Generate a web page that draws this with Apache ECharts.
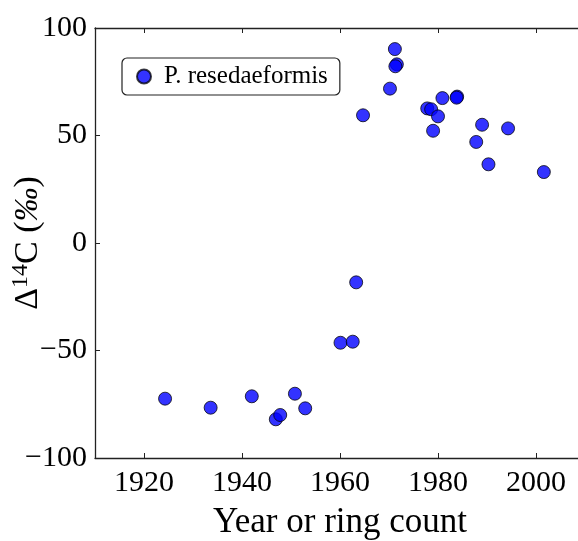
<!DOCTYPE html>
<html>
<head>
<meta charset="utf-8">
<script src="https://cdn.jsdelivr.net/npm/echarts@6/dist/echarts.min.js"></script>
<style>html,body{margin:0;padding:0;background:#fff}#c{width:578px;height:541px}</style>
</head>
<body>
<div id="c"></div>
<script>
const seriesName = 'P. resedaeformis';
const years = [1924.3, 1933.6, 1942.0, 1946.9, 1947.8, 1950.8, 1952.9, 1960.1, 1962.6, 1963.3,
  1964.7, 1970.2, 1971.2, 1971.6, 1971.3, 1977.8, 1978.6, 1980.0, 1979.0, 1980.9,
  1983.9, 1983.8, 1989.0, 1987.8, 1994.3, 1990.3, 2001.6];
const delta14C = [-72.4, -76.6, -71.3, -82.0, -80.0, -70.1, -76.9, -46.4, -45.9, -18.3,
  59.4, 71.8, 90.2, 83.1, 82.2, 62.6, 62.2, 58.9, 52.2, 67.4,
  68.1, 67.6, 55.0, 47.0, 53.3, 36.6, 33.0];
const xTicks = [1920, 1940, 1960, 1980, 2000];
const yTicks = [-100, -50, 0, 50, 100];

const font = 'Liberation Serif, Times New Roman, serif';
const chart = echarts.init(document.getElementById('c'), null, {renderer: 'canvas'});
const axisLine = {show: true, onZero: false, lineStyle: {color: '#222', width: 1.3}};
const fmt = v => String(v).replace('-', '\u2212');
chart.setOption({
  animation: false,
  backgroundColor: '#fff',
  grid: {left: 95, top: 28, bottom: 83, right: -7, containLabel: false, outerBoundsMode: 'none'},
  legend: {
    show: true, left: 122, top: 58, orient: 'horizontal',
    backgroundColor: '#fff', borderColor: '#222', borderWidth: 1.2, borderRadius: 5,
    padding: [6, 12, 6, 14], itemWidth: 14, itemHeight: 14, icon: 'circle',
    textStyle: {fontFamily: font, fontSize: 25, color: '#000', padding: [0, 0, 0, 8]},
    data: [seriesName]
  },
  xAxis: [{
    type: 'value', position: 'bottom', min: 1910, max: 2010,
    axisLine: axisLine, splitLine: {show: false},
    axisTick: {show: true, inside: true, length: 5, customValues: xTicks, lineStyle: {color: '#222'}},
    axisLabel: {show: true, customValues: xTicks, margin: 10, fontFamily: font, fontSize: 30, color: '#000', formatter: v => String(v)},
    name: 'Year or ring count', nameLocation: 'middle', nameGap: 47, nameMoveOverlap: false,
    nameTextStyle: {fontFamily: font, fontSize: 35, color: '#000'}
  }, {
    type: 'value', position: 'top', min: 1910, max: 2010,
    axisLine: axisLine, splitLine: {show: false},
    axisTick: {show: true, inside: true, length: 5, customValues: xTicks, lineStyle: {color: '#222'}},
    axisLabel: {show: false}
  }],
  yAxis: {
    type: 'value', min: -100, max: 100, interval: 50,
    axisLine: axisLine, splitLine: {show: false},
    axisTick: {show: true, inside: true, length: 5, lineStyle: {color: '#222'}},
    axisLabel: {margin: 8, fontFamily: font, fontSize: 30, color: '#000', formatter: fmt},
    name: '{d|\u0394}{sup|14}{d|C (}{it|\u2030}{d|)}',
    nameLocation: 'middle', nameGap: 48, nameRotate: 90, nameMoveOverlap: false,
    nameTextStyle: {
      fontFamily: font, fontSize: 34, color: '#000',
      rich: {
        d: {fontFamily: font, fontSize: 34, color: '#000', lineHeight: 38},
        sup: {fontFamily: font, fontSize: 24, color: '#000', verticalAlign: 'top', lineHeight: 38, padding: [0, 0, 14, 0]},
        it: {fontFamily: font, fontSize: 34, fontStyle: 'italic', color: '#000', lineHeight: 38}
      }
    }
  },
  series: [{
    name: seriesName, type: 'scatter', xAxisIndex: 0,
    symbol: 'circle', symbolSize: 13,
    itemStyle: {color: 'rgba(0,0,255,0.8)', borderColor: 'rgba(0,0,0,0.75)', borderWidth: 1, opacity: 1},
    data: years.map((y, i) => [y, delta14C[i]])
  }]
});
</script>
</body>
</html>
